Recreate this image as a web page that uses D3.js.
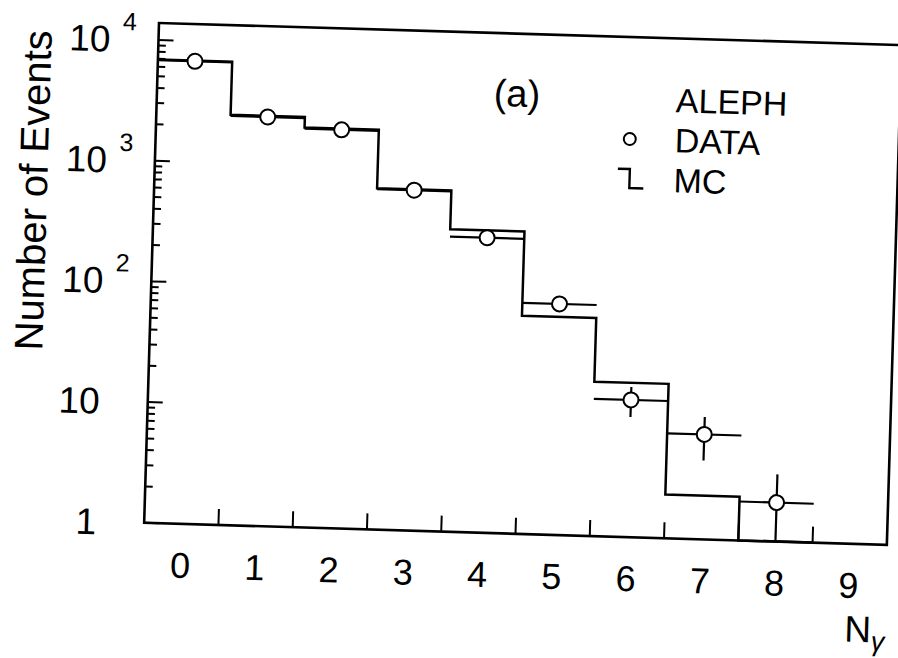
<!DOCTYPE html>
<meta charset="utf-8">
<style>
body{
  margin: 0;
  background: #fff;
}
svg{
  display: block;
  background-color: #fff;
}
text{
  font-family: "Liberation Sans", Arial, Helvetica, sans-serif;
  fill: #000;
}
</style>

<svg width="898" height="658"></svg>
<script src="https://d3js.org/d3.v7.min.js"></script>
<script>

// photon multiplicity, ALEPH data vs MC
var nGamma = [0, 1, 2, 3, 4, 5, 6, 7, 8];
var dataCounts = [6800, 2450, 2000, 660, 278, 82, 13.7, 7.4, 2.1];
var dataErrors = [82, 50, 45, 26, 17, 9, 3.8, 2.9, 1.5];
var mcCounts = [6900, 2500, 2050, 670, 320, 64, 19, 2.3, 0];

var xTickLabels = ["0", "1", "2", "3", "4", "5", "6", "7", "8", "9"];
var yLabelValues = [1, 10, 100, 1000, 10000];

var svg = d3.select("svg"),
    W = 743,
    H = 500;

// the scanned figure is slightly tilted, so the whole plot sits in a rotated group
var g = svg.append("g")
    .attr("transform", "translate(159,23) rotate(1.7)");

var x = d3.scaleLinear().domain([-0.5, 9.5]).range([0, W]);
var y = d3.scaleLog().domain([1, 1e4]).range([H, 17]).clamp(true);

// frame
g.append("rect")
    .attr("x", 0).attr("y", 0)
    .attr("width", W).attr("height", H)
    .attr("fill", "none")
    .attr("stroke", "#000")
    .attr("stroke-width", 2.6);

// y ticks (inward, left side only)
var yTicks = y.ticks().filter(function(d) { return d < 1e4 * 1.01; });
g.append("g").selectAll("line")
  .data(yTicks)
  .enter().append("line")
    .attr("x1", 0)
    .attr("x2", function(d) {
      var l = Math.log10(d);
      return Math.abs(l - Math.round(l)) < 1e-6 ? 15 : 7.5;
    })
    .attr("y1", function(d) { return y(d); })
    .attr("y2", function(d) { return y(d); })
    .attr("stroke", "#000")
    .attr("stroke-width", 2);

// x ticks at bin edges
var xTicks = d3.range(0.5, 9, 1);
g.append("g").selectAll("line")
  .data(xTicks)
  .enter().append("line")
    .attr("x1", function(d) { return x(d); })
    .attr("x2", function(d) { return x(d); })
    .attr("y1", H)
    .attr("y2", H - 16)
    .attr("stroke", "#000")
    .attr("stroke-width", 2);

// y tick labels: "10" with superscript exponent
var yl = g.append("g").selectAll("g")
  .data(yLabelValues)
  .enter().append("g");

yl.append("text")
    .attr("x", -48)
    .attr("y", function(d) { return y(d) + 13; })
    .attr("text-anchor", "end")
    .attr("font-size", 37)
    .text(function(d) { return d === 1 ? "1" : "10"; });

yl.filter(function(d) { return d >= 100; })
  .append("text")
    .attr("x", -36)
    .attr("y", function(d) { return y(d) - 9; })
    .attr("font-size", 25)
    .text(function(d) { return Math.round(Math.log10(d)); });

// x tick labels
g.append("g").selectAll("text")
  .data(xTickLabels)
  .enter().append("text")
    .attr("x", function(d, i) { return x(i); })
    .attr("y", H + 54)
    .attr("text-anchor", "middle")
    .attr("font-size", 36)
    .text(function(d) { return d; });

// axis titles
g.append("text")
    .attr("transform", "translate(-107,171) rotate(-90)")
    .attr("text-anchor", "middle")
    .attr("font-size", 40)
    .text("Number of Events");

var xt = g.append("text")
    .attr("x", 703)
    .attr("y", 598)
    .attr("font-size", 37)
    .text("N");
xt.append("tspan")
    .attr("dy", 8)
    .attr("font-size", 27)
    .attr("font-style", "italic")
    .text("γ");

// MC histogram
var mcPts = [];
nGamma.forEach(function(n, i) {
  var v = Math.max(mcCounts[i], 1);
  mcPts.push([x(n - 0.5), y(v)]);
  mcPts.push([x(n + 0.5), y(v)]);
});
g.append("path")
    .attr("d", d3.line()(mcPts))
    .attr("fill", "none")
    .attr("stroke", "#000")
    .attr("stroke-width", 2.5);

// data: error bars and markers
var pts = g.append("g").selectAll("g")
  .data(nGamma)
  .enter().append("g");

pts.append("line")
    .attr("x1", function(d) { return x(d - 0.5); })
    .attr("x2", function(d) { return x(d + 0.5); })
    .attr("y1", function(d, i) { return y(dataCounts[i]); })
    .attr("y2", function(d, i) { return y(dataCounts[i]); })
    .attr("stroke", "#000")
    .attr("stroke-width", 2.2);

pts.append("line")
    .attr("x1", function(d) { return x(d); })
    .attr("x2", function(d) { return x(d); })
    .attr("y1", function(d, i) { return y(Math.max(dataCounts[i] - dataErrors[i], 1)); })
    .attr("y2", function(d, i) { return y(dataCounts[i] + dataErrors[i]); })
    .attr("stroke", "#000")
    .attr("stroke-width", 2.2);

pts.append("circle")
    .attr("cx", function(d) { return x(d); })
    .attr("cy", function(d, i) { return y(dataCounts[i]); })
    .attr("r", 7.5)
    .attr("fill", "#fff")
    .attr("stroke", "#000")
    .attr("stroke-width", 2);

// panel label and legend
g.append("text")
    .attr("x", 360)
    .attr("y", 73)
    .attr("text-anchor", "middle")
    .attr("font-size", 38)
    .text("(a)");

var legendNames = ["ALEPH", "DATA", "MC"];
g.append("g").selectAll("text")
  .data(legendNames)
  .enter().append("text")
    .attr("x", 519)
    .attr("y", function(d, i) { return 74 + i * 40; })
    .attr("font-size", 34)
    .text(function(d) { return d; });

g.append("circle")
    .attr("cx", 474)
    .attr("cy", 102)
    .attr("r", 6)
    .attr("fill", "#fff")
    .attr("stroke", "#000")
    .attr("stroke-width", 2);

g.append("path")
    .attr("d", "M463,132H475V151H489")
    .attr("fill", "none")
    .attr("stroke", "#000")
    .attr("stroke-width", 2.4);

</script>
